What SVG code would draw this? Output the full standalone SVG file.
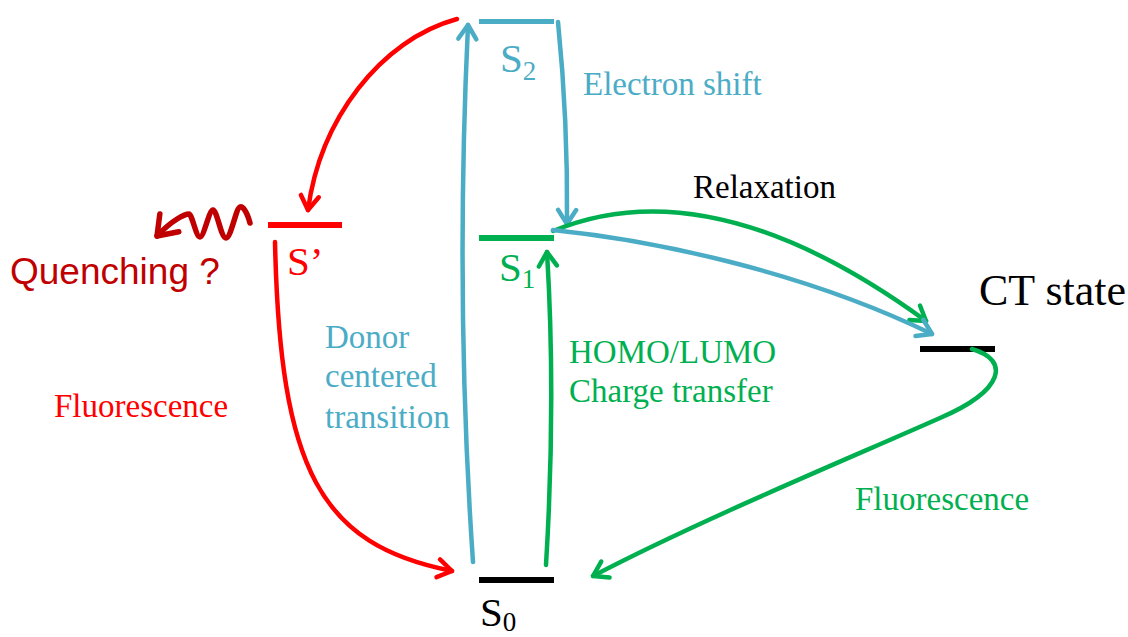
<svg xmlns="http://www.w3.org/2000/svg" width="1128" height="637" viewBox="0 0 1128 637">
<style>
.t{font-family:"Liberation Serif","Times New Roman",serif;font-size:33px}
.lv{font-family:"Liberation Serif","Times New Roman",serif;font-size:41px}
.sub{font-size:27px}
.c{fill:none;stroke-width:4.5;stroke-linecap:round}
.blue{fill:#4BACC6}.green{fill:#00B050}.red{fill:#FF0000}.dred{fill:#C00000}
</style>
<defs>
<marker id="mb" markerUnits="userSpaceOnUse" viewBox="-20 -12 24 24" markerWidth="24" markerHeight="24" refX="0" refY="0" orient="auto"><path d="M-14,-9 L0,0 L-14,9" fill="none" stroke="#4BACC6" stroke-width="4.5" stroke-linecap="round" stroke-linejoin="round"/></marker>
<marker id="mg" markerUnits="userSpaceOnUse" viewBox="-20 -12 24 24" markerWidth="24" markerHeight="24" refX="0" refY="0" orient="auto"><path d="M-14,-9 L0,0 L-14,9" fill="none" stroke="#00B050" stroke-width="4.5" stroke-linecap="round" stroke-linejoin="round"/></marker>
<marker id="mr" markerUnits="userSpaceOnUse" viewBox="-20 -12 24 24" markerWidth="24" markerHeight="24" refX="0" refY="0" orient="auto"><path d="M-14,-9 L0,0 L-14,9" fill="none" stroke="#FF0000" stroke-width="4.5" stroke-linecap="round" stroke-linejoin="round"/></marker>
<marker id="md" markerUnits="userSpaceOnUse" viewBox="-24 -16 28 32" markerWidth="28" markerHeight="32" refX="0" refY="0" orient="auto"><path d="M-18,-13 L0,0 L-18,13" fill="none" stroke="#C00000" stroke-width="5.5" stroke-linecap="round" stroke-linejoin="round"/></marker>
</defs>
<rect width="1128" height="637" fill="#fff"/>

<g id="S2">
<line x1="479" y1="21.5" x2="554" y2="21.5" stroke="#4BACC6" stroke-width="5"/>
<text class="lv blue" x="500" y="72">S<tspan class="sub" dy="8">2</tspan></text>
</g>
<g id="S1">
<line x1="479" y1="238" x2="554" y2="238" stroke="#00B050" stroke-width="6"/>
<text class="lv green" x="499" y="281">S<tspan class="sub" dy="7">1</tspan></text>
</g>
<g id="Sprime">
<line x1="268" y1="225" x2="342" y2="225" stroke="#FF0000" stroke-width="6"/>
<text class="lv red" x="287" y="275">S’</text>
</g>
<g id="S0">
<line x1="479" y1="580" x2="554" y2="580" stroke="#000" stroke-width="6"/>
<text class="lv" x="480" y="626" fill="#000">S<tspan class="sub" dy="5">0</tspan></text>
</g>
<g id="CT">
<line x1="920" y1="349" x2="995" y2="349" stroke="#000" stroke-width="6"/>
<text x="979" y="305" fill="#000" font-family="Liberation Serif, Times New Roman, serif" font-size="44">CT state</text>
</g>
<g id="quench">
<text x="10" y="284" font-family="Liberation Sans, Arial, sans-serif" font-size="37" fill="#C00000">Quenching ?</text>
</g>

<g id="connectors">
<path class="c" stroke="#4BACC6" d="M473,562 Q455,300 468,25" marker-end="url(#mb)"/>
<path class="c" stroke="#4BACC6" d="M558,22 Q568,120 567,224" marker-end="url(#mb)"/>
<path class="c" stroke="#00B050" d="M546,565 Q556,400 547,252" marker-end="url(#mg)"/>
<path class="c" stroke="#FF0000" d="M457,19 C380,40 320,120 308,210" marker-end="url(#mr)"/>
<path class="c" stroke="#FF0000" d="M275,242 C280,470 320,545 452,571" marker-end="url(#mr)"/>
<path class="c" stroke="#00B050" d="M553,231 C640,195 760,200 926,321" marker-end="url(#mg)"/>
<path class="c" stroke="#4BACC6" d="M553,230 C650,240 800,270 932,334" marker-end="url(#mb)"/>
<path class="c" stroke="#00B050" d="M972,349 C1010,360 1005,390 940,418 C850,458 700,520 593,576" marker-end="url(#mg)"/>
<path fill="none" stroke="#C00000" stroke-width="5.5" stroke-linecap="round" stroke-linejoin="round" d="M250,223 C247,212 243,206 240,207 C236,208 231,238 226,238 C221,238 217,210 213,210 C209,210 204,237 200,237 C196,237 192,214 189,214 C185,214 172,220 157,236" marker-end="url(#md)"/>
</g>

<g id="labels">
<text class="t blue" x="583" y="95">Electron shift</text>
<text class="t" x="693" y="198" fill="#000">Relaxation</text>
<text class="t blue" x="325" y="348">Donor</text>
<text class="t blue" x="325" y="387">centered</text>
<text class="t blue" x="325" y="428">transition</text>
<text class="t red" x="54" y="417">Fluorescence</text>
<text class="t green" x="569" y="363">HOMO/LUMO</text>
<text class="t green" x="569" y="402">Charge transfer</text>
<text class="t green" x="855" y="510">Fluorescence</text>
</g>
</svg>
